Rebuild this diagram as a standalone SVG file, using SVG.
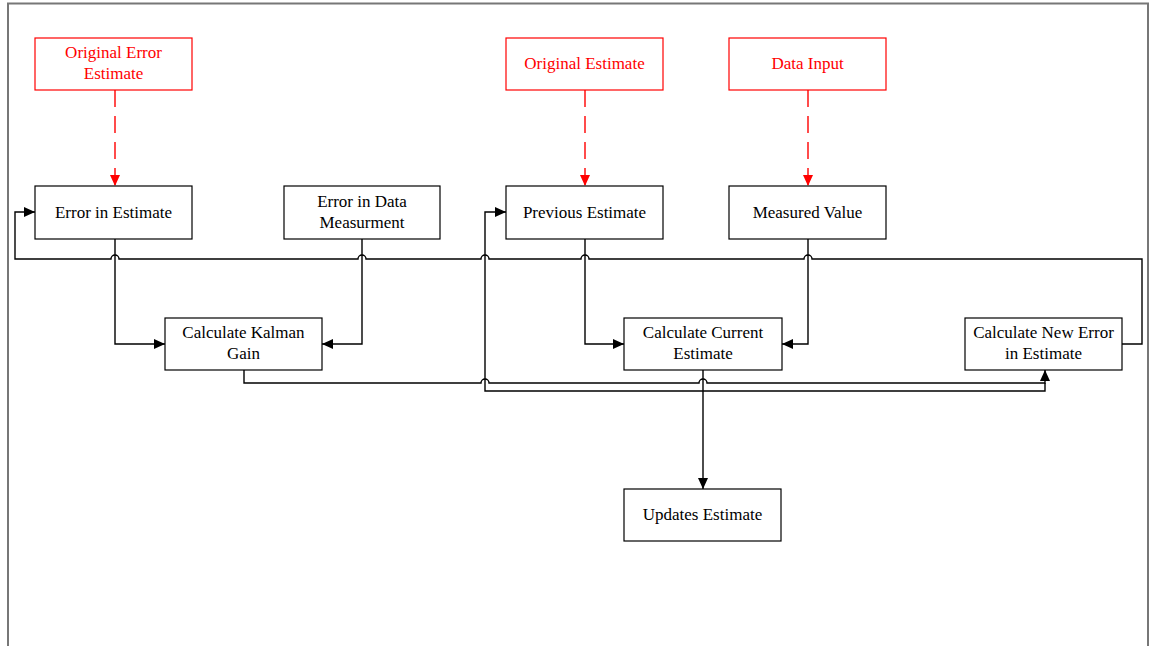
<svg xmlns="http://www.w3.org/2000/svg" width="1149" height="646" viewBox="0 0 1149 646">
<style>
.box{fill:#fff;stroke:#000;stroke-width:1.2}
.rbox{fill:#fff;stroke:#ff0000;stroke-width:1.2}
.t{font-family:"Liberation Serif","Times New Roman",serif;font-size:17px;text-anchor:middle;fill:#000}
.rt{font-family:"Liberation Serif","Times New Roman",serif;font-size:17px;text-anchor:middle;fill:#ff0000}
.c{fill:none;stroke:#000;stroke-width:1.4}
.rc{fill:none;stroke:#ff0000;stroke-width:1.4;stroke-dasharray:17 9}
</style>
<defs>
<marker id="a" markerUnits="userSpaceOnUse" markerWidth="12" markerHeight="10" refX="11" refY="5" orient="auto"><path d="M0,0 L11,5 L0,10 Z" fill="#000"/></marker>
<marker id="ra" markerUnits="userSpaceOnUse" markerWidth="12" markerHeight="10" refX="11" refY="5" orient="auto"><path d="M0,0 L11,5 L0,10 Z" fill="#ff0000"/></marker>
</defs>
<rect x="0" y="0" width="1149" height="646" fill="#fff"/>
<path d="M8,646 V3.5 H1148 V646" fill="none" stroke="#777" stroke-width="2"/>
<g id="connectors">
<path class="rc" d="M115,90 V186" marker-end="url(#ra)"/>
<path class="rc" d="M585,90 V186" marker-end="url(#ra)"/>
<path class="rc" d="M808,90 V186" marker-end="url(#ra)"/>
<path class="c" d="M1122,344 H1142 V259 H812 a4,4 0 0 0 -8,0 H589 a4,4 0 0 0 -8,0 H489 a4,4 0 0 0 -8,0 H366 a4,4 0 0 0 -8,0 H119 a4,4 0 0 0 -8,0 H15 V212 H35" marker-end="url(#a)"/>
<path class="c" d="M115,239 V344 H165" marker-end="url(#a)"/>
<path class="c" d="M362,239 V344 H322" marker-end="url(#a)"/>
<path class="c" d="M585,239 V344 H624" marker-end="url(#a)"/>
<path class="c" d="M808,239 V344 H782" marker-end="url(#a)"/>
<path class="c" d="M244,370 V383 H481 a4,4 0 0 1 8,0 H699 a4,4 0 0 1 8,0 H1045 V370" marker-end="url(#a)"/>
<path class="c" d="M703,370 V489" marker-end="url(#a)"/>
<path class="c" d="M703,391 H485 V212 H506" marker-end="url(#a)"/>
<path class="c" d="M703,391 H1045 V383"/>
</g>
<g id="n-orig-error"><rect class="rbox" x="35" y="38" width="157" height="52"/><text class="rt" x="113.5" y="58">Original Error</text><text class="rt" x="113.5" y="79">Estimate</text></g>
<g id="n-orig-estimate"><rect class="rbox" x="506" y="38" width="157" height="52"/><text class="rt" x="584.5" y="69">Original Estimate</text></g>
<g id="n-data-input"><rect class="rbox" x="729" y="38" width="157" height="52"/><text class="rt" x="807.5" y="69">Data Input</text></g>
<g id="n-error-estimate"><rect class="box" x="35" y="186" width="157" height="53"/><text class="t" x="113.5" y="218">Error in Estimate</text></g>
<g id="n-error-data"><rect class="box" x="284" y="186" width="156" height="53"/><text class="t" x="362" y="207">Error in Data</text><text class="t" x="362" y="228">Measurment</text></g>
<g id="n-previous"><rect class="box" x="506" y="186" width="157" height="53"/><text class="t" x="584.5" y="218">Previous Estimate</text></g>
<g id="n-measured"><rect class="box" x="729" y="186" width="157" height="53"/><text class="t" x="807.5" y="218">Measured Value</text></g>
<g id="n-kalman"><rect class="box" x="165" y="318" width="157" height="52"/><text class="t" x="243.5" y="338">Calculate Kalman</text><text class="t" x="243.5" y="359">Gain</text></g>
<g id="n-current"><rect class="box" x="624" y="318" width="158" height="52"/><text class="t" x="703" y="338">Calculate Current</text><text class="t" x="703" y="359">Estimate</text></g>
<g id="n-new-error"><rect class="box" x="965" y="318" width="157" height="52"/><text class="t" x="1043.5" y="338">Calculate New Error</text><text class="t" x="1043.5" y="359">in Estimate</text></g>
<g id="n-updates"><rect class="box" x="624" y="489" width="157" height="52"/><text class="t" x="702.5" y="520">Updates Estimate</text></g>
</svg>
